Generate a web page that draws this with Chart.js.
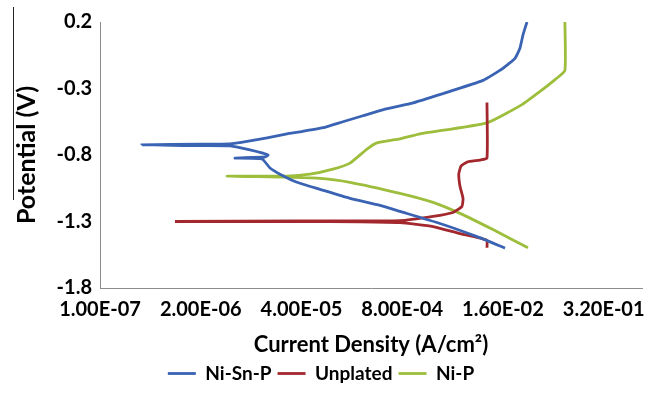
<!DOCTYPE html>
<html>
<head>
<meta charset="utf-8">
<script src="https://cdn.jsdelivr.net/npm/chart.js@4.4.1/dist/chart.umd.min.js"></script>
<style>
  html, body { margin: 0; padding: 0; background: #fff; }
  #wrap { width: 658px; height: 393px; }
</style>
</head>
<body>
<div id="wrap"><canvas id="tafel" width="658" height="393"></canvas></div>
<script>
// Tafel curves (current in A/cm2, potential in V)
const seriesNames = ['Ni-Sn-P', 'Unplated', 'Ni-P'];
const seriesColors = ['#3a63b3', '#a3282d', '#9dbe3c'];

const currentNiSnP = [1.70e-2, 7.4e-3, 2.46e-3, 7.48e-4, 4.13e-4, 1.69e-4, 6.93e-5, 3.50e-5, 2.11e-5, 1.57e-5,
    1.24e-5, 5.53e-6, 1.35e-5, 1.48e-5, 8.65e-6, 4.78e-6, 1.95e-6, 3.48e-7, 1.95e-6, 4.78e-6,
    8.65e-6, 1.44e-5, 2.60e-5, 3.83e-5, 7.59e-5, 1.37e-4, 2.49e-4, 4.6e-4, 1.01e-3, 2.69e-3,
    8.83e-3, 1.60e-2, 2.29e-2, 2.65e-2, 2.90e-2, 3.27e-2];
const potentialNiSnP = [-1.50, -1.414, -1.315, -1.224, -1.179, -1.126, -1.058, -1.005, -0.944, -0.898,
    -0.83, -0.823, -0.815, -0.80, -0.762, -0.732, -0.730, -0.724, -0.718, -0.717,
    -0.694, -0.671, -0.641, -0.626, -0.595, -0.550, -0.505, -0.459, -0.414, -0.338,
    -0.239, -0.148, -0.073, 0.003, 0.102, 0.2];

const currentUnplated = [9.95e-3, 9.95e-3, 8.57e-3, 4.46e-3, 2.0e-3, 7.48e-4, 2.28e-4, 3.83e-5, 9.3e-7, 3.83e-5,
    7.48e-4, 2.0e-3, 3.62e-3, 4.73e-3, 4.88e-3, 4.46e-3, 4.3e-3, 4.6e-3, 5.5e-3, 8.09e-3,
    9.95e-3, 9.95e-3];
const potentialUnplated = [-1.497, -1.444, -1.429, -1.391, -1.338, -1.308, -1.302, -1.300, -1.300, -1.296,
    -1.294, -1.262, -1.232, -1.186, -1.126, -1.035, -0.944, -0.883, -0.853, -0.838,
    -0.823, -0.406];

const currentNiP = [3.37e-2, 1.19e-2, 4.46e-3, 2.0e-3, 7.48e-4, 1.69e-4, 6.35e-5, 2.60e-5, 4.36e-6, 2.60e-5,
    5.15e-5, 1.02e-4, 1.69e-4, 2.81e-4, 3.78e-4, 7.48e-4, 1.36e-3, 9.95e-3, 2.82e-2, 4.82e-2,
    7.6e-2, 0.101, 0.101];
const potentialNiP = [-1.497, -1.361, -1.239, -1.156, -1.088, -1.005, -0.974, -0.967, -0.959, -0.959,
    -0.944, -0.906, -0.861, -0.755, -0.709, -0.679, -0.641, -0.558, -0.421, -0.322,
    -0.231, -0.164, 0.2];

const xTickValues = [1e-7, 2e-6, 4e-5, 8e-4, 1.6e-2, 3.2e-1];
const yTickValues = [-1.8, -1.3, -0.8, -0.3, 0.2];

function pairUp(xs, ys) {
    return xs.map(function (x, i) { return { x: x, y: ys[i] }; });
}

// Excel style label, e.g. 1.00E-07
function sciLabel(v) {
    const exp = Math.floor(Math.log10(v) + 1e-9);
    const mant = v / Math.pow(10, exp);
    const sign = exp < 0 ? '-' : '+';
    const e = Math.abs(exp);
    return mant.toFixed(2) + 'E' + sign + (e < 10 ? '0' + e : e);
}

const boldFont = { family: 'Lato', weight: 'bold', size: 20 };

function makeDataset(i, xs, ys) {
    return {
        label: seriesNames[i],
        data: pairUp(xs, ys),
        showLine: true,
        borderColor: seriesColors[i],
        backgroundColor: seriesColors[i],
        borderWidth: 2.8,
        pointRadius: 0,
        pointStyle: 'line',
        tension: 0.15
    };
}

// odd thin line on the left edge of the source image
const edgeLine = {
    id: 'edgeLine',
    afterDraw(chart) {
        const ctx = chart.ctx;
        ctx.save();
        ctx.strokeStyle = '#222';
        ctx.lineWidth = 1;
        ctx.beginPath();
        ctx.moveTo(13.5, 7);
        ctx.lineTo(13.5, 200);
        ctx.stroke();
        ctx.restore();
    }
};

const ctx = document.getElementById('tafel').getContext('2d');
const tafelChart = new Chart(ctx, {
    type: 'scatter',
    data: {
        datasets: [
            makeDataset(0, currentNiSnP, potentialNiSnP),
            makeDataset(1, currentUnplated, potentialUnplated),
            makeDataset(2, currentNiP, potentialNiP)
        ]
    },
    options: {
        responsive: false,
        animation: false,
        layout: { padding: { top: 22, right: 16, left: 0, bottom: 0 } },
        plugins: {
            tooltip: { enabled: false },
            legend: {
                position: 'bottom',
                labels: {
                    usePointStyle: true,
                    pointStyleWidth: 28,
                    color: '#000',
                    font: { family: 'Lato', weight: 'bold', size: 19 },
                    padding: 6
                }
            }
        },
        scales: {
            x: {
                type: 'logarithmic',
                min: 1e-7,
                max: 1.0,
                afterBuildTicks: function (s) {
                    s.ticks = xTickValues.map(function (v) { return { value: v }; });
                },
                afterFit: function (s) { s.height = 70; },
                grid: { display: false, drawTicks: false },
                border: { color: '#8c8c8c', width: 1 },
                ticks: {
                    color: '#000',
                    font: boldFont,
                    padding: 10,
                    maxRotation: 0,
                    autoSkip: false,
                    callback: function (v) { return sciLabel(v); }
                },
                title: {
                    display: true,
                    text: 'Current Density (A/cm²)',
                    color: '#000',
                    font: { family: 'Lato', weight: 'bold', size: 22 },
                    padding: { top: 7, bottom: 0 }
                }
            },
            y: {
                min: -1.8,
                max: 0.2,
                afterBuildTicks: function (s) {
                    s.ticks = yTickValues.map(function (v) { return { value: v }; });
                },
                afterFit: function (s) { s.width = 100; },
                grid: { display: false, drawTicks: false },
                border: { color: '#8c8c8c', width: 1 },
                ticks: {
                    color: '#000',
                    font: boldFont,
                    padding: 8,
                    callback: function (v) { return v.toFixed(1); }
                },
                title: {
                    display: true,
                    text: 'Potential (V)',
                    color: '#000',
                    font: { family: 'Lato', weight: 'bold', size: 25 },
                    padding: { top: 12, bottom: 0 }
                }
            }
        }
    },
    plugins: [edgeLine]
});
</script>
</body>
</html>
